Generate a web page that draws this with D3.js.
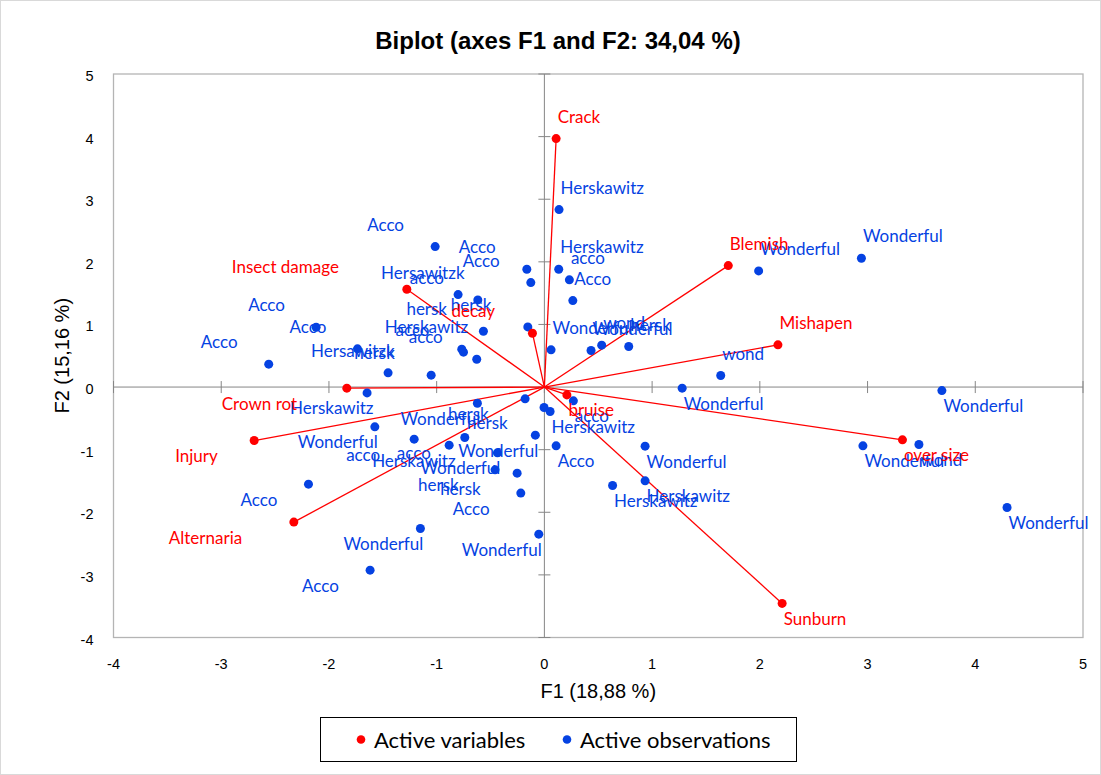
<!DOCTYPE html>
<html>
<head>
<meta charset="utf-8">
<script src="https://cdn.jsdelivr.net/npm/d3@7"></script>
<style>
  html, body { margin: 0; padding: 0; background: #ffffff; }
  svg { display: block; }
</style>
</head>
<body>
<svg id="chart" width="1101" height="775"></svg>
<script>
// ---- Data: PCA biplot, axes F1 and F2 ----
const chartTitle = "Biplot (axes F1 and F2: 34,04 %)";
const xAxisTitle = "F1 (18,88 %)";
const yAxisTitle = "F2 (15,16 %)";
const axisTicks = [-4, -3, -2, -1, 0, 1, 2, 3, 4, 5];

// Active variables (loadings)
const varNames = ["Crack", "Blemish", "Mishapen", "decay", "Insect damage", "Crown rot",
                  "Injury", "Alternaria", "bruise", "over size", "Sunburn"];
const varF1 = [0.109, 1.707, 2.168, -0.111, -1.277, -1.834, -2.694, -2.326, 0.209, 3.324, 2.207];
const varF2 = [3.968, 1.940, 0.674, 0.860, 1.563, -0.018, -0.854, -2.157, -0.125, -0.843, -3.456];

// Active observations (scores)
const obsNames = [
  "Acco", "Acco", "Acco", "Hersawitzk", "hersk", "Acco", "Hersawitzk", "acco", "hersk",
  "Herskawitz", "acco", "acco", "Acco", "Acco", "hersk",
  "Herskawitz", "Herskawitz", "acco", "Acco", "Wonderful", "Wonderful", "wond", "hersk",
  "Wonderful", "Wonderful", "wond",
  "Wonderful", "Wonderful", "acco", "Herskawitz", "Acco", "Wonderful", "Herskawitz",
  "Herskawitz", "Wonderful", "wond", "Wonderful",
  "Herskawitz", "Wonderful", "hersk", "hersk", "Wonderful", "acco", "acco", "Herskawitz",
  "Wonderful", "Wonderful", "hersk", "hersk", "Acco", "Acco", "Wonderful", "Wonderful", "Acco"
];
const obsF1 = [
  -2.559, -2.119, -1.735, -1.451, -1.051, -1.014, -0.801, -0.618, -0.566,
  -0.767, -0.751, -0.628, -0.163, -0.126, -0.154,
  0.136, 0.133, 0.232, 0.264, 0.062, 0.433, 0.532, 0.783,
  1.989, 2.943, 1.637,
  1.279, 3.690, 0.269, 0.053, 0.109, 0.935, 0.935,
  0.633, 2.957, 3.477, 4.295,
  -1.646, -0.622, -0.179, -0.003, -1.574, -1.209, -0.739, -0.884,
  -0.084, -0.436, -0.458, -0.253, -0.219, -2.190, -1.151, -0.052, -1.618
];
const obsF2 = [
  0.366, 0.956, 0.610, 0.227, 0.190, 2.243, 1.477, 1.392, 0.892,
  0.605, 0.557, 0.445, 1.882, 1.669, 0.961,
  2.834, 1.882, 1.712, 1.381, 0.594, 0.583, 0.669, 0.647,
  1.855, 2.058, 0.184,
  -0.018, -0.056, -0.220, -0.391, -0.939, -0.944, -1.498,
  -1.573, -0.939, -0.918, -1.924,
  -0.093, -0.258, -0.188, -0.327, -0.635, -0.832, -0.806, -0.928,
  -0.768, -1.051, -1.322, -1.375, -1.694, -1.551, -2.259, -2.349, -2.924
];

const legendLabels = ["Active variables", "Active observations"];

// ---- Label placement (side of the point, and left-edge offset for left-side labels) ----
const varLabelSide = ["ur", "ur", "ur", "ul", "ul", "ll", "ll", "ll", "lr", "lr", "lr"];
const varLabelLeft = [0, 0, 0, -81, -175, -125, -79, -125, 0, 0, 0];
const obsLabelSide = [
  "ul", "ul", "ul", "ul", "ul", "ul", "ul", "ul", "ul", "ul", "ul", "ul", "ul", "ul", "ul",
  "ur", "ur", "ur", "ur", "ur", "ur", "ur", "ur", "ur", "ur", "ur",
  "lr", "lr", "lr", "lr", "lr", "lr", "lr", "lr", "lr", "lr", "lr",
  "ll", "ll", "ll", "ll", "ll", "ll", "ll", "ll", "ll", "ll", "ll", "ll", "ll", "ll", "ll", "ll", "ll"
];

// ---- Styling ----
const RED = "#ff0000";
const BLUE = "#0542e2";
const LABEL_FONT = "Lato, 'Open Sans', sans-serif";
const AXIS_FONT = "'Liberation Sans', Arial, sans-serif";

const svg = d3.select("#chart");
const width = 1101, height = 775;
const plot = { left: 113.5, right: 1083, top: 74, bottom: 637.5 };

const x = d3.scaleLinear().domain([-4, 5]).range([plot.left, plot.right]);
const y = d3.scaleLinear().domain([-4, 5]).range([plot.bottom, plot.top]);

// Offset of a point label from its marker, by side
function labelDx(side, text, left) {
  if (side === "ur" || side === "lr") return 1.5;
  if (left) return left;
  return text.length <= 4 ? -68 : -77;
}
function labelDy(side) {
  return (side === "ur" || side === "ul") ? -22.5 : 15;
}

// Chart area outline
svg.append("rect")
  .attr("x", 0.5).attr("y", 0.5)
  .attr("width", width - 1).attr("height", height - 1)
  .attr("fill", "#fff").attr("stroke", "#d9d9d9");

// Title
svg.append("text")
  .attr("x", 558).attr("y", 40)
  .attr("text-anchor", "middle").attr("dominant-baseline", "central")
  .attr("font-family", AXIS_FONT).attr("font-weight", "bold").attr("font-size", 24)
  .attr("fill", "#000").text(chartTitle);

// Plot frame
svg.append("rect")
  .attr("x", plot.left).attr("y", plot.top)
  .attr("width", plot.right - plot.left).attr("height", plot.bottom - plot.top)
  .attr("fill", "none").attr("stroke", "#b4b4b4").attr("stroke-width", 1.3);

// Zero axes with crossing tick marks
const axisG = svg.append("g").attr("stroke", "#868686").attr("stroke-width", 1);
axisG.append("line").attr("x1", plot.left).attr("x2", plot.right).attr("y1", y(0)).attr("y2", y(0));
axisG.append("line").attr("x1", x(0)).attr("x2", x(0)).attr("y1", plot.top).attr("y2", plot.bottom);
axisG.selectAll("line.ytick").data(axisTicks).join("line").attr("class", "ytick")
  .attr("x1", x(0) - 6).attr("x2", x(0) + 6)
  .attr("y1", d => y(d)).attr("y2", d => y(d));
axisG.selectAll("line.xtick").data(axisTicks).join("line").attr("class", "xtick")
  .attr("x1", d => x(d)).attr("x2", d => x(d))
  .attr("y1", y(0) - 6).attr("y2", y(0) + 6);

// Tick labels at the plot edges
svg.append("g").selectAll("text").data(axisTicks).join("text")
  .attr("x", d => x(d)).attr("y", 664)
  .attr("text-anchor", "middle").attr("dominant-baseline", "central")
  .attr("font-family", AXIS_FONT).attr("font-size", 14.5).attr("fill", "#000")
  .text(d => d);
svg.append("g").selectAll("text").data(axisTicks).join("text")
  .attr("x", plot.left - 20).attr("y", d => y(d) + 2)
  .attr("text-anchor", "end").attr("dominant-baseline", "central")
  .attr("font-family", AXIS_FONT).attr("font-size", 14.5).attr("fill", "#000")
  .text(d => d);

// Axis titles
svg.append("text")
  .attr("x", (plot.left + plot.right) / 2).attr("y", 691)
  .attr("text-anchor", "middle").attr("dominant-baseline", "central")
  .attr("font-family", AXIS_FONT).attr("font-size", 20).attr("fill", "#000")
  .text(xAxisTitle);
svg.append("text")
  .attr("transform", `translate(62,${(plot.top + plot.bottom) / 2}) rotate(-90)`)
  .attr("text-anchor", "middle").attr("dominant-baseline", "central")
  .attr("font-family", AXIS_FONT).attr("font-size", 20).attr("fill", "#000")
  .text(yAxisTitle);

// Build records
const vars = varNames.map((n, i) => ({ name: n, f1: varF1[i], f2: varF2[i], side: varLabelSide[i], left: varLabelLeft[i] }));
const obs = obsNames.map((n, i) => ({ name: n, f1: obsF1[i], f2: obsF2[i], side: obsLabelSide[i], left: 0 }));

// Variable vectors from the origin
svg.append("g").selectAll("line").data(vars).join("line")
  .attr("x1", x(0)).attr("y1", y(0))
  .attr("x2", d => x(d.f1)).attr("y2", d => y(d.f2))
  .attr("stroke", RED).attr("stroke-width", 1.3);

// Observation markers
svg.append("g").selectAll("circle").data(obs).join("circle")
  .attr("cx", d => x(d.f1)).attr("cy", d => y(d.f2)).attr("r", 4.5)
  .attr("fill", BLUE);

// Variable markers
svg.append("g").selectAll("circle").data(vars).join("circle")
  .attr("cx", d => x(d.f1)).attr("cy", d => y(d.f2)).attr("r", 4.5)
  .attr("fill", RED);

// Observation labels
svg.append("g").selectAll("text").data(obs).join("text")
  .attr("x", d => x(d.f1) + labelDx(d.side, d.name, d.left))
  .attr("y", d => y(d.f2) + labelDy(d.side))
  .attr("dominant-baseline", "central")
  .attr("font-family", LABEL_FONT).attr("font-size", 17).attr("fill", BLUE)
  .text(d => d.name);

// Variable labels
svg.append("g").selectAll("text").data(vars).join("text")
  .attr("x", d => x(d.f1) + labelDx(d.side, d.name, d.left))
  .attr("y", d => y(d.f2) + labelDy(d.side))
  .attr("dominant-baseline", "central")
  .attr("font-family", LABEL_FONT).attr("font-size", 17).attr("fill", RED)
  .text(d => d.name);

// Legend
const legend = svg.append("g");
legend.append("rect")
  .attr("x", 320.5).attr("y", 717.5).attr("width", 476).attr("height", 44)
  .attr("fill", "#fff").attr("stroke", "#000").attr("stroke-width", 1);
const legendColors = [RED, BLUE];
const legendDotX = [361, 567];
legendLabels.forEach((t, i) => {
  legend.append("circle").attr("cx", legendDotX[i]).attr("cy", 739.5).attr("r", 4.3).attr("fill", legendColors[i]);
  legend.append("text")
    .attr("x", legendDotX[i] + 13).attr("y", 739.5)
    .attr("dominant-baseline", "central")
    .attr("font-family", LABEL_FONT).attr("font-size", 22).attr("fill", "#000")
    .text(t);
});
</script>
</body>
</html>
